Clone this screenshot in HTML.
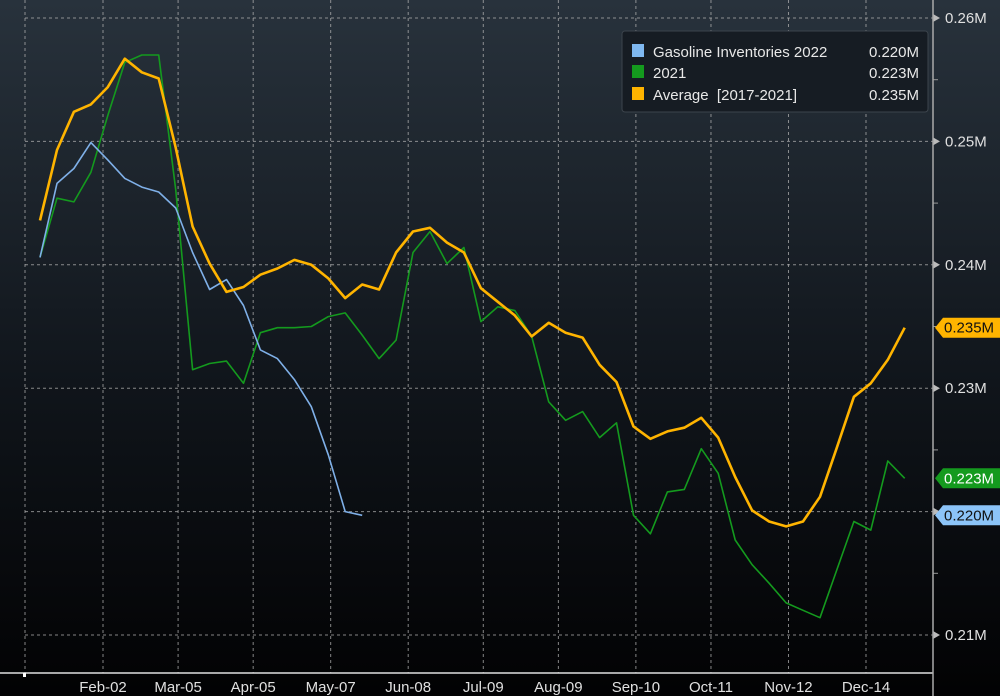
<!DOCTYPE html>
<html><head><meta charset="utf-8"><style>
html,body{margin:0;padding:0;width:1000px;height:696px;overflow:hidden;background:#000}
svg{display:block;font-family:"Liberation Sans","DejaVu Sans",sans-serif}
</style></head><body>
<svg id="chart" width="1000" height="696" viewBox="0 0 1000 696" xmlns="http://www.w3.org/2000/svg">
<defs><linearGradient id="bg" x1="0" y1="0" x2="0" y2="1"><stop offset="0" stop-color="#28323c"/><stop offset="0.55" stop-color="#10151b"/><stop offset="1" stop-color="#020203"/></linearGradient></defs>
<rect x="0" y="0" width="1000" height="696" fill="url(#bg)"/>
<g id="grid"></g><g id="series"></g><g id="axes"></g>
<g>
<rect x="622" y="31" width="306" height="81" rx="3" fill="#161c23" stroke="#3c444c"/>
<rect x="632" y="44" width="12" height="13" fill="#7fb8f0"/>
<text x="653" y="57" fill="#e8e8e8" font-size="15">Gasoline Inventories 2022</text>
<text x="919" y="57" fill="#e8e8e8" font-size="15" text-anchor="end">0.220M</text>
<rect x="632" y="65" width="12" height="13" fill="#149a1e"/>
<text x="653" y="78" fill="#e8e8e8" font-size="15">2021</text>
<text x="919" y="78" fill="#e8e8e8" font-size="15" text-anchor="end">0.223M</text>
<rect x="632" y="87" width="12" height="13" fill="#ffb400"/>
<text x="653" y="100" fill="#e8e8e8" font-size="15" xml:space="preserve">Average  [2017-2021]</text>
<text x="919" y="100" fill="#e8e8e8" font-size="15" text-anchor="end">0.235M</text>
</g>
</svg>
<script>
const yTicks=[0.21,0.22,0.23,0.24,0.25,0.26];
const yTickLabels=["0.21M","0.22M","0.23M","0.24M","0.25M","0.26M"];
const xTickDays=[33,64,95,127,159,190,221,253,284,316,348];
const xTickLabels=["Feb-02","Mar-05","Apr-05","May-07","Jun-08","Jul-09","Aug-09","Sep-10","Oct-11","Nov-12","Dec-14"];
const firstDay=7;
const inv2022=[0.2406,0.2466,0.2478,0.2499,0.2485,0.2470,0.2463,0.2459,0.2446,0.2410,0.2380,0.2388,0.2367,0.2331,0.2324,0.2307,0.2285,0.2246,0.2200,0.2197];
const inv2021=[0.2406,0.2454,0.2451,0.2475,0.2521,0.2564,0.2570,0.2570,0.2461,0.2315,0.2320,0.2322,0.2304,0.2345,0.2349,0.2349,0.2350,0.2358,0.2361,0.2343,0.2324,0.2339,0.2410,0.2427,0.2401,0.2414,0.2354,0.2366,0.2363,0.2342,0.2289,0.2274,0.2281,0.2260,0.2272,0.2197,0.2182,0.2216,0.2218,0.2251,0.2231,0.2177,0.2157,0.2142,0.2126,0.2120,0.2114,0.2153,0.2192,0.2185,0.2241,0.2227];
const invAvg=[0.2436,0.2493,0.2524,0.2530,0.2544,0.2567,0.2556,0.2551,0.2495,0.2431,0.2401,0.2378,0.2382,0.2392,0.2397,0.2404,0.2400,0.2389,0.2373,0.2384,0.2380,0.2410,0.2427,0.2430,0.2418,0.2410,0.2381,0.2370,0.2359,0.2342,0.2353,0.2345,0.2341,0.2319,0.2305,0.2269,0.2259,0.2265,0.2268,0.2276,0.2260,0.2228,0.2201,0.2192,0.2188,0.2192,0.2212,0.2252,0.2293,0.2304,0.2323,0.2349];

const NS="http://www.w3.org/2000/svg";
function yS(v){return 18+(0.26-v)/0.01*123.4;}
function xD(d){return 103+(d-33)*2.4222;}
function xI(i){return xD(firstDay+7*i);}
function mk(t,a,p){const e=document.createElementNS(NS,t);for(const k in a)e.setAttribute(k,a[k]);p.appendChild(e);return e;}
const grid=document.getElementById('grid'),ser=document.getElementById('series'),ax=document.getElementById('axes');
// horizontal grid + y labels
yTicks.forEach((v,i)=>{
  const y=yS(v);
  const g=mk('line',{x1:25,x2:933,y1:y,y2:y,stroke:'#b0b0b0','stroke-width':1,'stroke-dasharray':'3,3',opacity:0.75},grid);
  
  
  const a=mk('path',{d:`M933 ${y-4} L940 ${y} L933 ${y+4}Z`,fill:'#bbb'},ax);
  
  
  const t=mk('text',{x:945,y:y+5,fill:'#e0e0e0','font-size':15},ax);
  t.textContent=yTickLabels[i];
  
  
  if(i<yTicks.length-1){const ym=yS(v+0.005);const m=mk('line',{x1:933,x2:938,y1:ym,y2:ym,stroke:'#999'},ax);
  
  }
});
// vertical grid
const vl=mk('line',{x1:25,x2:25,y1:0,y2:673,stroke:'#b0b0b0','stroke-dasharray':'3,3',opacity:0.75},grid);


xTickDays.forEach((d,i)=>{
  const x=xD(d);
  const g=mk('line',{x1:x,x2:x,y1:0,y2:673,stroke:'#b0b0b0','stroke-width':1,'stroke-dasharray':'3,3',opacity:0.75},grid);
  
  
  const t=mk('text',{x:x,y:692,fill:'#e0e0e0','font-size':15,'text-anchor':'middle'},ax);
  t.textContent=xTickLabels[i];
  
  
});
const xa=mk('line',{x1:0,x2:933,y1:673,y2:673,stroke:'#e0e0e0','stroke-width':1.5},ax);


const ya=mk('line',{x1:933,x2:933,y1:0,y2:696,stroke:'#aaa','stroke-width':1.5},ax);


const sq=mk('rect',{x:23,y:673,width:3,height:4,fill:'#fff'},ax);


function line(data,color,w,name){
  const p=mk('polyline',{points:data.map((v,i)=>xI(i).toFixed(1)+','+yS(v).toFixed(1)).join(' '),fill:'none',stroke:color,'stroke-width':w,'stroke-linejoin':'round'},ser);
  
  
}
line(inv2021,'#149a1e',1.6,'line-2021');
line(inv2022,'#7fb0e8',1.6,'line-2022');
line(invAvg,'#ffb400',2.6,'line-average');
function tag(v,bg,fg,label,name){
  const y=yS(v);
  const p=mk('path',{d:`M935 ${y} L943 ${y-10} L1000 ${y-10} L1000 ${y+10} L943 ${y+10}Z`,fill:bg},ax);
  
  
  const t=mk('text',{x:944,y:y+5,fill:fg,'font-size':15},ax);
  t.textContent=label;
  
  
}
tag(invAvg[invAvg.length-1],'#ffb400','#111','0.235M','last-value-tag-average');
tag(inv2021[inv2021.length-1],'#149a1e','#fff','0.223M','last-value-tag-2021');
tag(inv2022[inv2022.length-1],'#8cc4f8','#111','0.220M','last-value-tag-2022');
</script>
</body></html>
